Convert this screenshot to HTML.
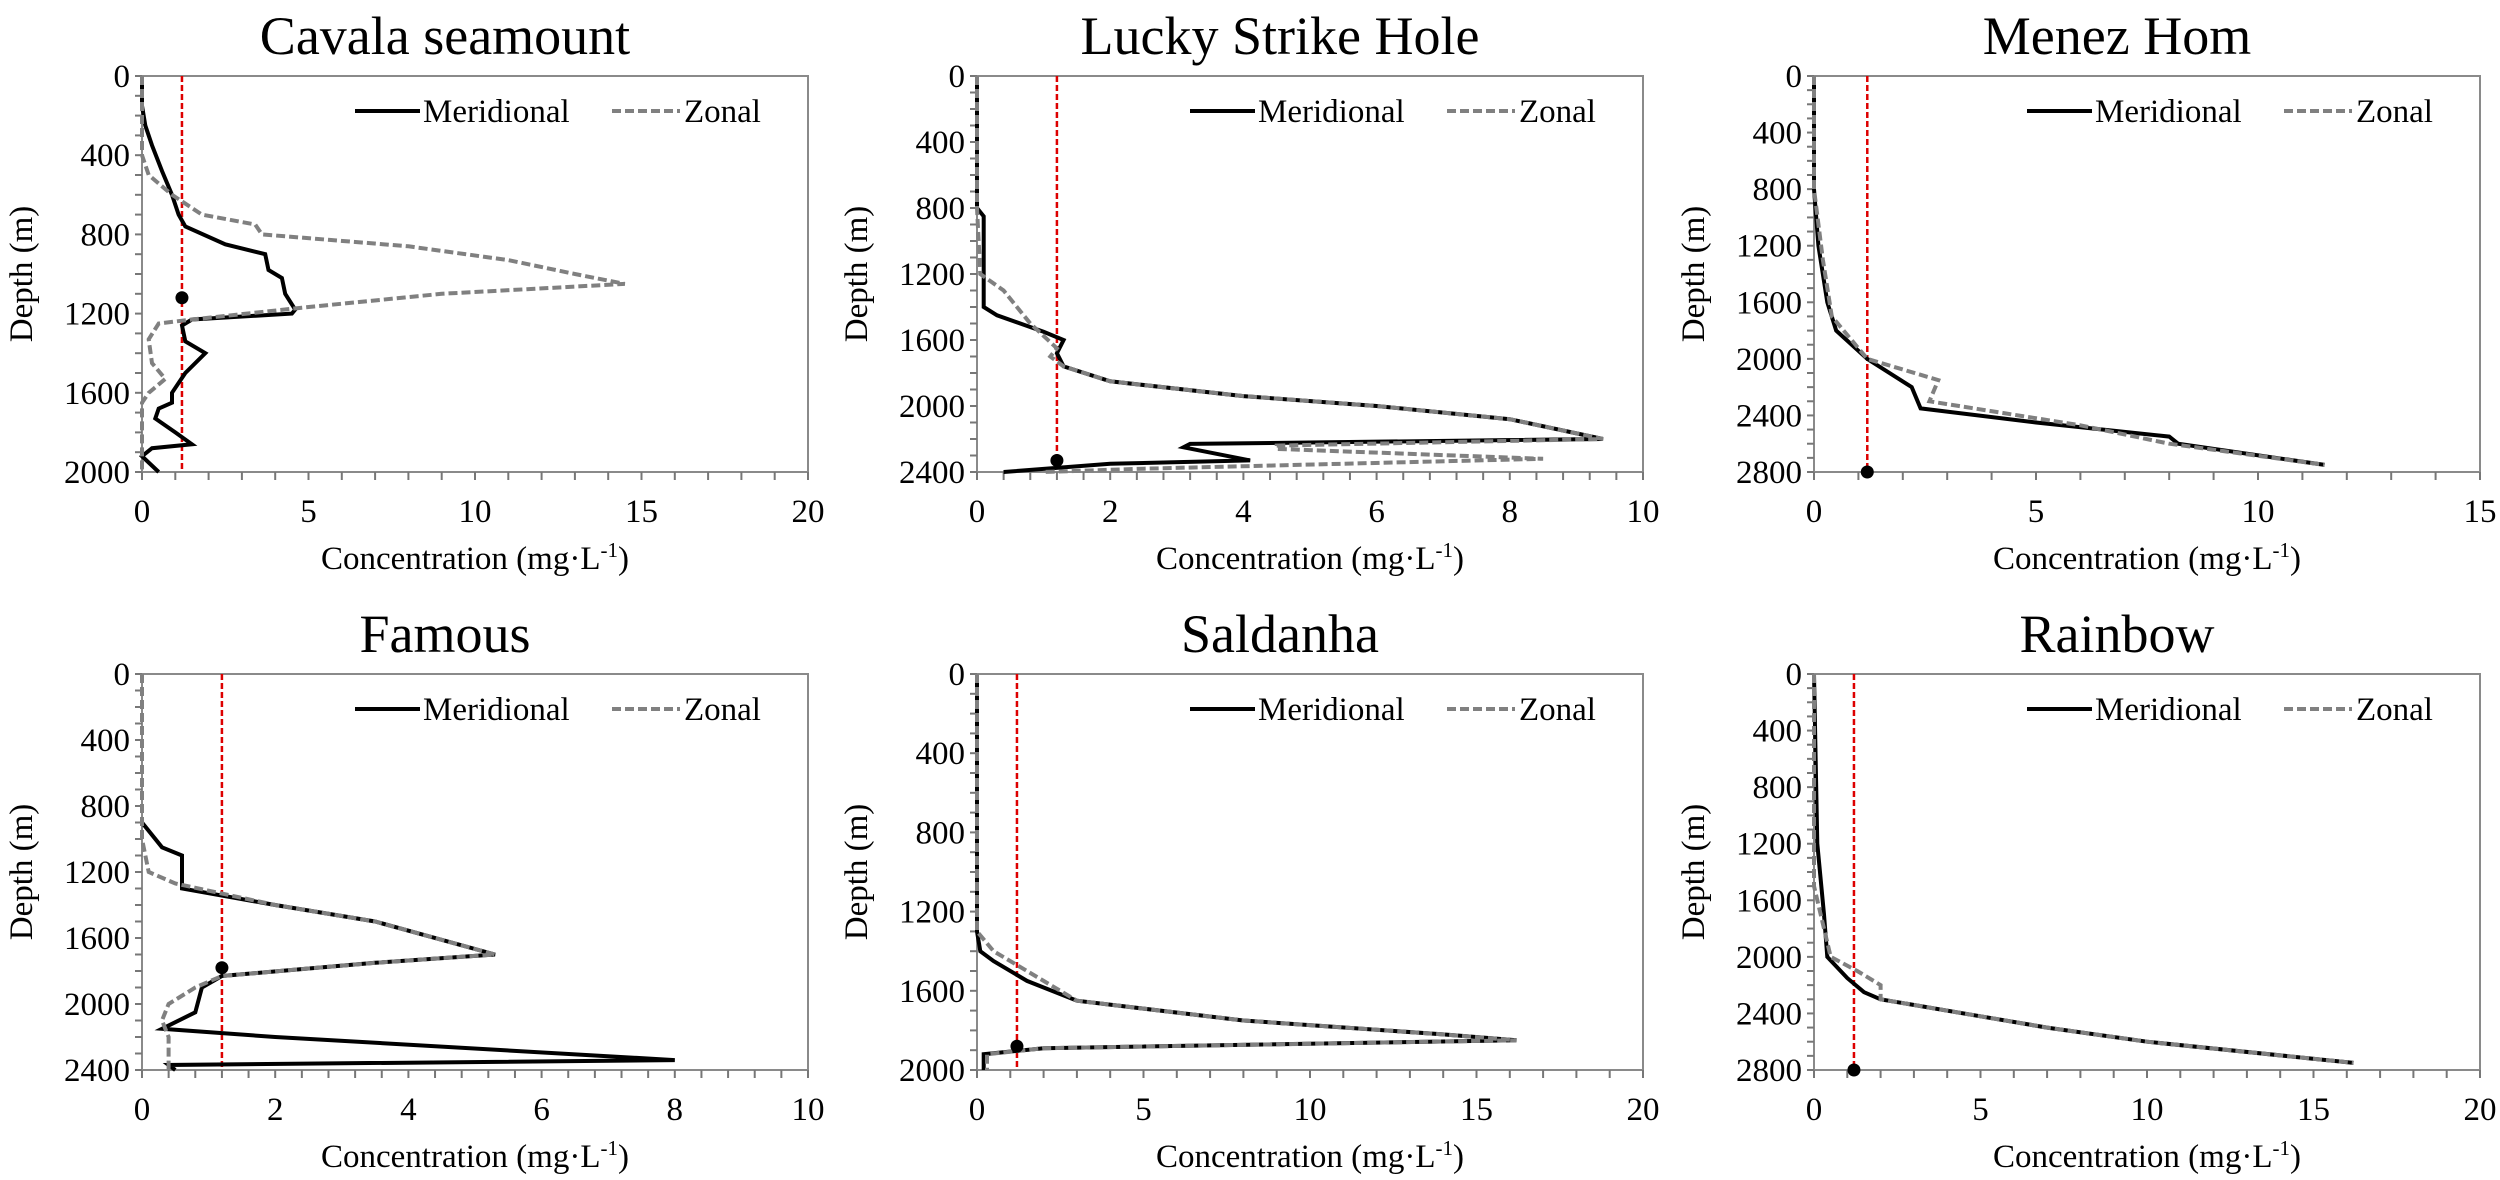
<!DOCTYPE html>
<html><head><meta charset="utf-8"><style>
html,body{margin:0;padding:0;background:#fff;}
svg{display:block;font-family:"Liberation Serif",serif;}
</style></head><body>
<svg id="s" width="2500" height="1180" xmlns="http://www.w3.org/2000/svg"></svg>
<script>
const S=document.getElementById('s');let h='';
const charts=[
{t:"Cavala seamount",x0:142,y0:76,xm:20,xs:5,xmin:1,ym:2000,dot:1120,
m:[[0,0],[0,150],[0.1,250],[0.3,350],[0.6,480],[0.9,600],[1.1,700],[1.3,760],[2.5,850],[3.7,900],[3.8,980],[4.2,1020],[4.3,1100],[4.6,1180],[4.5,1200],[1.5,1230],[1.2,1260],[1.3,1340],[1.9,1400],[1.3,1500],[0.9,1600],[0.9,1650],[0.5,1680],[0.4,1730],[1.0,1800],[1.5,1860],[0.3,1880],[0,1920],[0.5,2000]],
z:[[0,0],[0,400],[0.2,500],[0.9,600],[1.8,700],[3.4,750],[3.6,800],[8,860],[11,930],[13,1000],[14.5,1050],[9,1100],[4.8,1170],[1.5,1230],[0.5,1250],[0.2,1330],[0.3,1450],[0.7,1530],[0.2,1600],[0,1650],[0,2000]]},
{t:"Lucky Strike Hole",x0:977,y0:76,xm:10,xs:2,xmin:0.4,ym:2400,dot:2330,
m:[[0,0],[0,800],[0.1,850],[0.1,1400],[0.3,1450],[1.0,1550],[1.3,1600],[1.2,1680],[1.3,1760],[2,1850],[4,1940],[6,2000],[8,2080],[9.4,2200],[3.2,2230],[3.1,2250],[4.1,2330],[2,2350],[0.4,2400]],
z:[[0,0],[0,800],[0.05,1200],[0.4,1300],[0.8,1500],[1.2,1650],[1.1,1700],[1.3,1760],[2,1850],[4,1940],[6,2000],[8,2080],[9.4,2200],[4.5,2240],[4.5,2260],[8.5,2320],[2.5,2380],[1,2400]]},
{t:"Menez Hom",x0:1814,y0:76,xm:15,xs:5,xmin:1,ym:2800,dot:2800,
m:[[0,0],[0,800],[0.1,1200],[0.3,1600],[0.5,1800],[1.2,2000],[2.2,2200],[2.4,2350],[5,2450],[8,2550],[8.2,2600],[11.5,2750]],
z:[[0,0],[0,800],[0.2,1300],[0.4,1700],[1.2,2000],[2.8,2150],[2.6,2300],[6,2470],[8,2600],[11.5,2750]]},
{t:"Famous",x0:142,y0:674,xm:10,xs:2,xmin:0.4,ym:2400,dot:1780,
m:[[0,900],[0.3,1050],[0.6,1100],[0.6,1300],[2,1400],[3.5,1500],[5.3,1700],[3.5,1750],[1.2,1830],[0.9,1900],[0.8,2050],[0.3,2150],[2,2200],[8,2340],[0.4,2370],[0.5,2400]],
z:[[0,0],[0,1000],[0.1,1200],[0.5,1270],[2,1400],[3.5,1500],[5.3,1700],[3.5,1750],[1.2,1830],[0.8,1900],[0.4,2000],[0.3,2100],[0.4,2200],[0.4,2400]]},
{t:"Saldanha",x0:977,y0:674,xm:20,xs:5,xmin:1,ym:2000,dot:1880,
m:[[0,0],[0,1300],[0.1,1400],[0.5,1450],[1.5,1550],[3,1650],[8,1750],[14,1820],[16.2,1850],[2,1890],[0.2,1920],[0.2,2000]],
z:[[0,0],[0,1300],[0.5,1400],[1.5,1500],[3,1650],[8,1750],[14,1820],[16.2,1850],[2,1890],[0.3,1920],[0.3,2000]]},
{t:"Rainbow",x0:1814,y0:674,xm:20,xs:5,xmin:1,ym:2800,dot:2800,
m:[[0,0],[0.1,1200],[0.3,1700],[0.4,2000],[1,2150],[1.5,2250],[2,2300],[5,2420],[7,2500],[10,2600],[16.2,2750]],
z:[[0,0],[0,1500],[0.3,1800],[0.5,2000],[1.3,2100],[2,2200],[2,2300],[5,2420],[7,2500],[10,2600],[16.2,2750]]}
];
const W=666,H=396;
for(const c of charts){
 const X=v=>c.x0+v/c.xm*W, Y=d=>c.y0+d/c.ym*H;
 h+=`<text x="${c.x0+W/2-30}" y="${c.y0-22}" font-size="54" text-anchor="middle">${c.t}</text>`;
 h+=`<rect x="${c.x0}" y="${c.y0}" width="${W}" height="${H}" fill="none" stroke="#8a8a8a" stroke-width="2"/>`;
 for(let d=0;d<=c.ym+1e-6;d+=100){h+=`<line x1="${c.x0-7}" x2="${c.x0}" y1="${Y(d)}" y2="${Y(d)}" stroke="#777" stroke-width="2"/>`;}
 for(let d=0;d<=c.ym;d+=400){h+=`<text x="${c.x0-12}" y="${Y(d)+11}" font-size="33" text-anchor="end">${d}</text>`;}
 for(let v=0;v<=c.xm+1e-6;v+=c.xmin){h+=`<line x1="${X(v)}" x2="${X(v)}" y1="${c.y0+H}" y2="${c.y0+H+8}" stroke="#777" stroke-width="2"/>`;}
 for(let v=0;v<=c.xm;v+=c.xs){h+=`<text x="${X(v)}" y="${c.y0+H+50}" font-size="33" text-anchor="middle">${v}</text>`;}
 h+=`<text x="${c.x0+W/2}" y="${c.y0+H+97}" font-size="33" text-anchor="middle">Concentration (mg·L<tspan font-size="21" dy="-12">-1</tspan><tspan dy="12">)</tspan></text>`;
 h+=`<text transform="translate(${c.x0-110},${c.y0+H/2}) rotate(-90)" font-size="33" text-anchor="middle">Depth (m)</text>`;
 h+=`<line x1="${X(1.2)}" x2="${X(1.2)}" y1="${c.y0}" y2="${c.y0+H}" stroke="#d00" stroke-width="2.5" stroke-dasharray="6,3"/>`;
 const p=a=>a.map(q=>X(q[0]).toFixed(1)+','+Y(q[1]).toFixed(1)).join(' ');
 h+=`<polyline points="${p(c.m)}" fill="none" stroke="#000" stroke-width="4"/>`;
 h+=`<polyline points="${p(c.z)}" fill="none" stroke="#808080" stroke-width="4" stroke-dasharray="9,4"/>`;
 h+=`<circle cx="${X(1.2)}" cy="${Y(c.dot)}" r="6.5" fill="#000"/>`;
 const lx=c.x0+213, ly=c.y0+35;
 h+=`<line x1="${lx}" x2="${lx+65}" y1="${ly}" y2="${ly}" stroke="#000" stroke-width="4"/>`;
 h+=`<text x="${lx+68}" y="${ly+11}" font-size="33">Meridional</text>`;
 h+=`<line x1="${lx+257}" x2="${lx+325}" y1="${ly}" y2="${ly}" stroke="#808080" stroke-width="4" stroke-dasharray="9,4"/>`;
 h+=`<text x="${lx+329}" y="${ly+11}" font-size="33">Zonal</text>`;
}
S.innerHTML=h;
</script>
</body></html>
